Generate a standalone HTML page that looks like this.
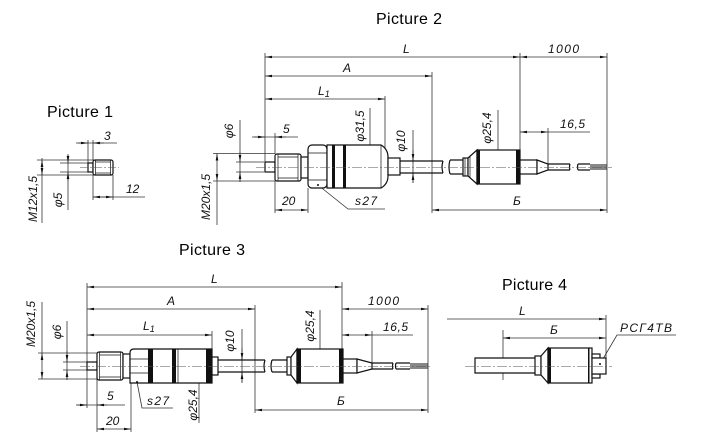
<!DOCTYPE html>
<html><head><meta charset="utf-8"><style>
html,body{margin:0;padding:0;background:#fff;}
svg{display:block}
.t{font-family:"Liberation Sans",sans-serif;font-size:16px;fill:#000}
.d{font-family:"Liberation Sans","DejaVu Sans",sans-serif;font-style:italic;font-size:12px;fill:#111}
</style></head><body>
<svg width="701" height="447" viewBox="0 0 701 447" xmlns="http://www.w3.org/2000/svg">
<defs>
<marker id="a" markerUnits="userSpaceOnUse" markerWidth="8" markerHeight="4" refX="7" refY="2" orient="auto-start-reverse" viewBox="0 0 8 4"><path d="M0,0.7 L7,2 L0,3.3z" fill="#111"/></marker>
</defs>
<rect width="701" height="447" fill="#fff"/>

<!-- Titles -->
<text class="t" x="47" y="117" textLength="66">Picture 1</text>
<text class="t" x="376" y="24" textLength="66">Picture 2</text>
<text class="t" x="179" y="255" textLength="66">Picture 3</text>
<text class="t" x="502" y="290" textLength="65">Picture 4</text>

<!-- ============ PICTURE 1 ============ -->
<g stroke="#333" stroke-width="0.8" fill="none">
  <line x1="37" y1="160" x2="95" y2="160"/>
  <line x1="37" y1="175" x2="95" y2="175"/>
  <line x1="60" y1="163" x2="88" y2="163"/>
  <line x1="60" y1="172" x2="88" y2="172"/>
  <line x1="42" y1="158" x2="42" y2="223"/>
  <line x1="42" y1="167" x2="42" y2="160" marker-end="url(#a)"/>
  <line x1="42" y1="167" x2="42" y2="175" marker-end="url(#a)"/>
  <line x1="68" y1="155" x2="68" y2="210"/>
  <line x1="68" y1="154" x2="68" y2="163" marker-end="url(#a)"/>
  <line x1="68" y1="181" x2="68" y2="172" marker-end="url(#a)"/>
  <line x1="88" y1="140" x2="88" y2="163"/>
  <line x1="93" y1="140" x2="93" y2="160"/>
  <line x1="76" y1="143" x2="117" y2="143"/>
  <line x1="78" y1="143" x2="88" y2="143" marker-end="url(#a)"/>
  <line x1="104" y1="143" x2="93" y2="143" marker-end="url(#a)"/>
  <line x1="93" y1="175" x2="93" y2="200"/>
  <line x1="113" y1="175" x2="113" y2="200"/>
  <line x1="93" y1="197" x2="145" y2="197"/>
  <line x1="103" y1="197" x2="93" y2="197" marker-end="url(#a)"/>
  <line x1="103" y1="197" x2="113" y2="197" marker-end="url(#a)"/>
</g>
<g stroke="#111" stroke-width="1.2" fill="#fff">
  <rect x="88" y="163" width="5" height="9"/>
  <rect x="93" y="160" width="20" height="15" rx="2"/>
</g>
<g stroke="#111" stroke-width="0.7" fill="none">
  <line x1="95.5" y1="160" x2="95.5" y2="175"/>
  <line x1="110.5" y1="160" x2="110.5" y2="175"/>
  <line x1="95.5" y1="162" x2="110.5" y2="162"/>
  <line x1="95.5" y1="173" x2="110.5" y2="173"/>
</g>
<line x1="80" y1="167.5" x2="119" y2="167.5" stroke="#555" stroke-width="0.6" stroke-dasharray="8 2 2 2"/>
<text class="d" x="104" y="140">3</text>
<text class="d" x="126" y="193">12</text>
<text class="d" transform="translate(37,199) rotate(-90)" text-anchor="middle" font-size="13">M12x1,5</text>
<text class="d" transform="translate(62,200) rotate(-90)" text-anchor="middle">φ5</text>

<!-- ============ PICTURE 2 ============ -->
<g stroke="#333" stroke-width="0.8" fill="none">
  <line x1="265" y1="53" x2="265" y2="162"/>
  <line x1="432" y1="72" x2="432" y2="213"/>
  <line x1="520" y1="53" x2="520" y2="172"/>
  <line x1="607" y1="53" x2="607" y2="213"/>
  <line x1="548" y1="128" x2="548" y2="166"/>
  <line x1="385" y1="96" x2="385" y2="152"/>
  <line x1="275" y1="133" x2="275" y2="154"/>
  <line x1="275" y1="181" x2="275" y2="213"/>
  <line x1="308" y1="188" x2="308" y2="213"/>
  <line x1="265" y1="57" x2="520" y2="57" marker-start="url(#a)" marker-end="url(#a)"/>
  <line x1="520" y1="57" x2="607" y2="57" marker-start="url(#a)" marker-end="url(#a)"/>
  <line x1="265" y1="76" x2="432" y2="76" marker-start="url(#a)" marker-end="url(#a)"/>
  <line x1="265" y1="99" x2="385" y2="99" marker-start="url(#a)" marker-end="url(#a)"/>
  <line x1="432" y1="210" x2="607" y2="210" marker-start="url(#a)" marker-end="url(#a)"/>
  <line x1="520" y1="132" x2="548" y2="132" marker-start="url(#a)" marker-end="url(#a)"/>
  <line x1="548" y1="132" x2="590" y2="132"/>
  <line x1="252" y1="137" x2="298" y2="137"/>
  <line x1="254" y1="137" x2="265" y2="137" marker-end="url(#a)"/>
  <line x1="286" y1="137" x2="275" y2="137" marker-end="url(#a)"/>
  <line x1="275" y1="210" x2="308" y2="210" marker-start="url(#a)" marker-end="url(#a)"/>
  <line x1="213" y1="153.5" x2="275" y2="153.5"/>
  <line x1="213" y1="181" x2="275" y2="181"/>
  <line x1="217" y1="181" x2="217" y2="225"/>
  <line x1="217" y1="153.5" x2="217" y2="181" marker-start="url(#a)" marker-end="url(#a)"/>
  <line x1="236" y1="162" x2="264" y2="162"/>
  <line x1="236" y1="172" x2="264" y2="172"/>
  <line x1="240" y1="120" x2="240" y2="181"/>
  <line x1="240" y1="152" x2="240" y2="162" marker-end="url(#a)"/>
  <line x1="240" y1="182" x2="240" y2="172" marker-end="url(#a)"/>
  <line x1="370" y1="108" x2="370" y2="145"/>
  <line x1="370" y1="145" x2="370" y2="188" marker-start="url(#a)" marker-end="url(#a)"/>
  <line x1="413" y1="130" x2="413" y2="183"/>
  <line x1="413" y1="150" x2="413" y2="161" marker-end="url(#a)"/>
  <line x1="413" y1="183" x2="413" y2="173" marker-end="url(#a)"/>
  <line x1="498" y1="110" x2="498" y2="150"/>
  <line x1="498" y1="150" x2="498" y2="184" marker-start="url(#a)" marker-end="url(#a)"/>
  <polyline points="318,185 348,209 385,209"/>
</g>
<g stroke="#111" stroke-width="1.2" fill="#fff">
  <rect x="265" y="162" width="10" height="10"/>
  <rect x="275" y="154" width="26" height="27" rx="2"/>
  <rect x="301" y="157" width="7" height="21"/>
  <rect x="308" y="145" width="19" height="43" rx="4"/>
  <path d="M327,145 H381 Q388,149 388,157 V176 Q388,184 381,188 H327 Z"/>
  <rect x="388" y="158" width="12" height="17"/>
  <path d="M400,161 H443 M400,173 H443" fill="none"/>
  <path d="M443,161 q-2,6 0,12" fill="none"/>
  <path d="M450,160 H463 M450,174 H463 M450,160 q-2,7 0,14" fill="none"/>
  <rect x="463" y="158" width="5" height="18"/>
  <path d="M468,158 L477,150 L477,184 L468,176 Z"/>
  <rect x="477" y="150" width="43" height="34"/>
  <rect x="520" y="160" width="17" height="14"/>
  <path d="M537,160 L548,164 L548,170 L537,174 Z"/>
  <path d="M548,164 H570 M548,170 H570 M570,164 q-1,3 0,6" fill="none"/>
  <path d="M578,164 H590 M578,170 H590 M578,164 q-1,3 0,6" fill="none"/>
</g>
<g stroke="#111" stroke-width="0.7" fill="none">
  <line x1="278" y1="154" x2="278" y2="181"/>
  <line x1="298" y1="154" x2="298" y2="181"/>
  <line x1="278" y1="157" x2="298" y2="157"/>
  <line x1="278" y1="178" x2="298" y2="178"/>
  <line x1="308" y1="153" x2="327" y2="153"/>
  <line x1="308" y1="180" x2="327" y2="180"/>
  <line x1="381" y1="145" x2="381" y2="188"/>
  <line x1="465" y1="158" x2="465" y2="176"/>
  <line x1="470" y1="156" x2="470" y2="178"/>
  <path d="M590,165 H607 M590,167 H607 M590,169 H607" stroke-width="0.9"/>
</g>
<g fill="#111">
  <rect x="332" y="145" width="3" height="43"/>
  <rect x="343" y="145" width="3" height="43"/>
  <rect x="477" y="150" width="3" height="34"/>
  <rect x="516" y="150" width="4" height="34"/>
  <circle cx="318" cy="185" r="1"/>
</g>
<line x1="256" y1="167.5" x2="612" y2="167.5" stroke="#555" stroke-width="0.6" stroke-dasharray="10 2 2 2"/>
<text class="d" x="403" y="53">L</text>
<text class="d" x="548" y="53" textLength="31">1000</text>
<text class="d" x="343" y="72">A</text>
<text class="d" x="318" y="95">L<tspan font-size="9" dy="2">1</tspan></text>
<text class="d" x="513" y="205">Б</text>
<text class="d" x="560" y="128" textLength="25">16,5</text>
<text class="d" x="283" y="133">5</text>
<text class="d" x="282" y="205">20</text>
<text class="d" x="355" y="205" textLength="22">s27</text>
<text class="d" transform="translate(210,197) rotate(-90)" text-anchor="middle" font-size="13">M20x1,5</text>
<text class="d" transform="translate(233,131) rotate(-90)" text-anchor="middle">φ6</text>
<text class="d" transform="translate(364,126) rotate(-90)" text-anchor="middle">φ31,5</text>
<text class="d" transform="translate(405,141) rotate(-90)" text-anchor="middle">φ10</text>
<text class="d" transform="translate(491,128) rotate(-90)" text-anchor="middle">φ25,4</text>

<!-- ============ PICTURE 3 ============ -->
<g stroke="#333" stroke-width="0.8" fill="none">
  <line x1="87" y1="283" x2="87" y2="362"/>
  <line x1="87" y1="370" x2="87" y2="408"/>
  <line x1="342" y1="282" x2="342" y2="370"/>
  <line x1="255" y1="305" x2="255" y2="413"/>
  <line x1="428" y1="305" x2="428" y2="413"/>
  <line x1="372" y1="331" x2="372" y2="365"/>
  <line x1="212" y1="331" x2="212" y2="349"/>
  <line x1="97" y1="379" x2="97" y2="432"/>
  <line x1="131" y1="383" x2="131" y2="432"/>
  <line x1="87" y1="287" x2="342" y2="287" marker-start="url(#a)" marker-end="url(#a)"/>
  <line x1="87" y1="309" x2="255" y2="309" marker-start="url(#a)" marker-end="url(#a)"/>
  <line x1="87" y1="335" x2="212" y2="335" marker-start="url(#a)" marker-end="url(#a)"/>
  <line x1="342" y1="309" x2="428" y2="309" marker-start="url(#a)" marker-end="url(#a)"/>
  <line x1="342" y1="335" x2="372" y2="335" marker-start="url(#a)" marker-end="url(#a)"/>
  <line x1="372" y1="335" x2="413" y2="335"/>
  <line x1="255" y1="410" x2="428" y2="410" marker-start="url(#a)" marker-end="url(#a)"/>
  <line x1="76" y1="405" x2="125" y2="405"/>
  <line x1="77" y1="405" x2="87" y2="405" marker-end="url(#a)"/>
  <line x1="107" y1="405" x2="97" y2="405" marker-end="url(#a)"/>
  <line x1="97" y1="429" x2="131" y2="429" marker-start="url(#a)" marker-end="url(#a)"/>
  <line x1="38" y1="353" x2="97" y2="353"/>
  <line x1="38" y1="379" x2="97" y2="379"/>
  <line x1="42" y1="302" x2="42" y2="353"/>
  <line x1="42" y1="353" x2="42" y2="379" marker-start="url(#a)" marker-end="url(#a)"/>
  <line x1="63" y1="362" x2="87" y2="362"/>
  <line x1="63" y1="370" x2="87" y2="370"/>
  <line x1="67" y1="321" x2="67" y2="379"/>
  <line x1="67" y1="351" x2="67" y2="362" marker-end="url(#a)"/>
  <line x1="67" y1="380" x2="67" y2="370" marker-end="url(#a)"/>
  <line x1="199" y1="349" x2="199" y2="384" marker-start="url(#a)" marker-end="url(#a)"/>
  <line x1="199" y1="384" x2="199" y2="423"/>
  <line x1="242" y1="329" x2="242" y2="382"/>
  <line x1="242" y1="348" x2="242" y2="360" marker-end="url(#a)"/>
  <line x1="242" y1="383" x2="242" y2="372" marker-end="url(#a)"/>
  <line x1="320" y1="310" x2="320" y2="349"/>
  <line x1="320" y1="349" x2="320" y2="383" marker-start="url(#a)" marker-end="url(#a)"/>
  <polyline points="137,382 142,408 173,408"/>
</g>
<g stroke="#111" stroke-width="1.2" fill="#fff">
  <rect x="87" y="362" width="10" height="8"/>
  <rect x="97" y="352" width="26" height="28" rx="2"/>
  <rect x="123" y="354" width="7" height="24"/>
  <path d="M134,349 H212 V383 H130 V353 Q130,349 134,349 Z"/>
  <rect x="212" y="357" width="6" height="18"/>
  <path d="M218,360 H265 M218,372 H265 M265,360 q-2,6 0,12" fill="none"/>
  <path d="M272,360 H287 M272,372 H287 M272,360 q-2,6 0,12" fill="none"/>
  <rect x="287" y="357" width="4" height="18"/>
  <path d="M291,357 L297,349 L297,383 L291,375 Z"/>
  <rect x="297" y="349" width="46" height="34"/>
  <rect x="343" y="359" width="14" height="14"/>
  <path d="M357,359 L372,363 L372,369 L357,373 Z"/>
  <path d="M372,363 H393 M372,369 H393 M393,363 q-1,3 0,6" fill="none"/>
  <path d="M396,363 H410 M396,369 H410 M396,363 q-1,3 0,6" fill="none"/>
</g>
<g stroke="#111" stroke-width="0.7" fill="none">
  <line x1="99.5" y1="352" x2="99.5" y2="380"/>
  <line x1="120.5" y1="352" x2="120.5" y2="380"/>
  <line x1="99.5" y1="355" x2="120.5" y2="355"/>
  <line x1="99.5" y1="377" x2="120.5" y2="377"/>
  <line x1="130" y1="359" x2="148" y2="359"/>
  <line x1="130" y1="373" x2="148" y2="373"/>
  <line x1="178" y1="349" x2="178" y2="383"/>
  <path d="M410,364 H428 M410,366 H428 M410,368 H428" stroke-width="0.9"/>
</g>
<g fill="#111">
  <rect x="148" y="349" width="5" height="34"/>
  <rect x="172" y="349" width="4" height="34"/>
  <rect x="206" y="349" width="6" height="34"/>
  <rect x="297" y="349" width="4" height="34"/>
  <rect x="339" y="349" width="4" height="34"/>
  <circle cx="137" cy="382" r="1"/>
</g>
<line x1="80" y1="366.5" x2="432" y2="366.5" stroke="#555" stroke-width="0.6" stroke-dasharray="10 2 2 2"/>
<text class="d" x="211" y="283">L</text>
<text class="d" x="167" y="305">A</text>
<text class="d" x="143" y="330">L<tspan font-size="9" dy="2">1</tspan></text>
<text class="d" x="368" y="305" textLength="31">1000</text>
<text class="d" x="383" y="331" textLength="25">16,5</text>
<text class="d" x="337" y="405">Б</text>
<text class="d" x="107" y="400">5</text>
<text class="d" x="106" y="425">20</text>
<text class="d" x="147" y="405" textLength="22">s27</text>
<text class="d" transform="translate(35,324) rotate(-90)" text-anchor="middle" font-size="13">M20x1,5</text>
<text class="d" transform="translate(61,332) rotate(-90)" text-anchor="middle">φ6</text>
<text class="d" transform="translate(197,405) rotate(-90)" text-anchor="middle">φ25,4</text>
<text class="d" transform="translate(234,341) rotate(-90)" text-anchor="middle">φ10</text>
<text class="d" transform="translate(314,326) rotate(-90)" text-anchor="middle">φ25,4</text>

<!-- ============ PICTURE 4 ============ -->
<g stroke="#333" stroke-width="0.8" fill="none">
  <line x1="447" y1="319" x2="606" y2="319" marker-end="url(#a)"/>
  <line x1="503" y1="338" x2="606" y2="338" marker-start="url(#a)" marker-end="url(#a)"/>
  <line x1="503" y1="330" x2="503" y2="380"/>
  <line x1="606" y1="315" x2="606" y2="358"/>
  <polyline points="600,364 617,335 676,335"/>
</g>
<g stroke="#111" stroke-width="1.2" fill="#fff">
  <path d="M535,358 H475 V373 H535" />
  <rect x="535" y="356" width="6" height="19"/>
  <path d="M541,356 L548,348 L548,383 L541,375 Z"/>
  <rect x="548" y="348" width="44" height="35"/>
  <rect x="592" y="354" width="8" height="4"/>
  <rect x="592" y="374" width="8" height="4"/>
  <rect x="592" y="358" width="14" height="16"/>
</g>
<g fill="#111">
  <rect x="548" y="348" width="3" height="35"/>
  <rect x="588" y="348" width="1.5" height="35"/>
  <circle cx="600" cy="364" r="1"/>
</g>
<line x1="465" y1="366.5" x2="612" y2="366.5" stroke="#555" stroke-width="0.6" stroke-dasharray="10 2 2 2"/>
<text class="d" x="519" y="315">L</text>
<text class="d" x="550" y="334">Б</text>
<text class="d" x="620" y="332" textLength="52">РСГ4ТВ</text>
</svg>
</body></html>
